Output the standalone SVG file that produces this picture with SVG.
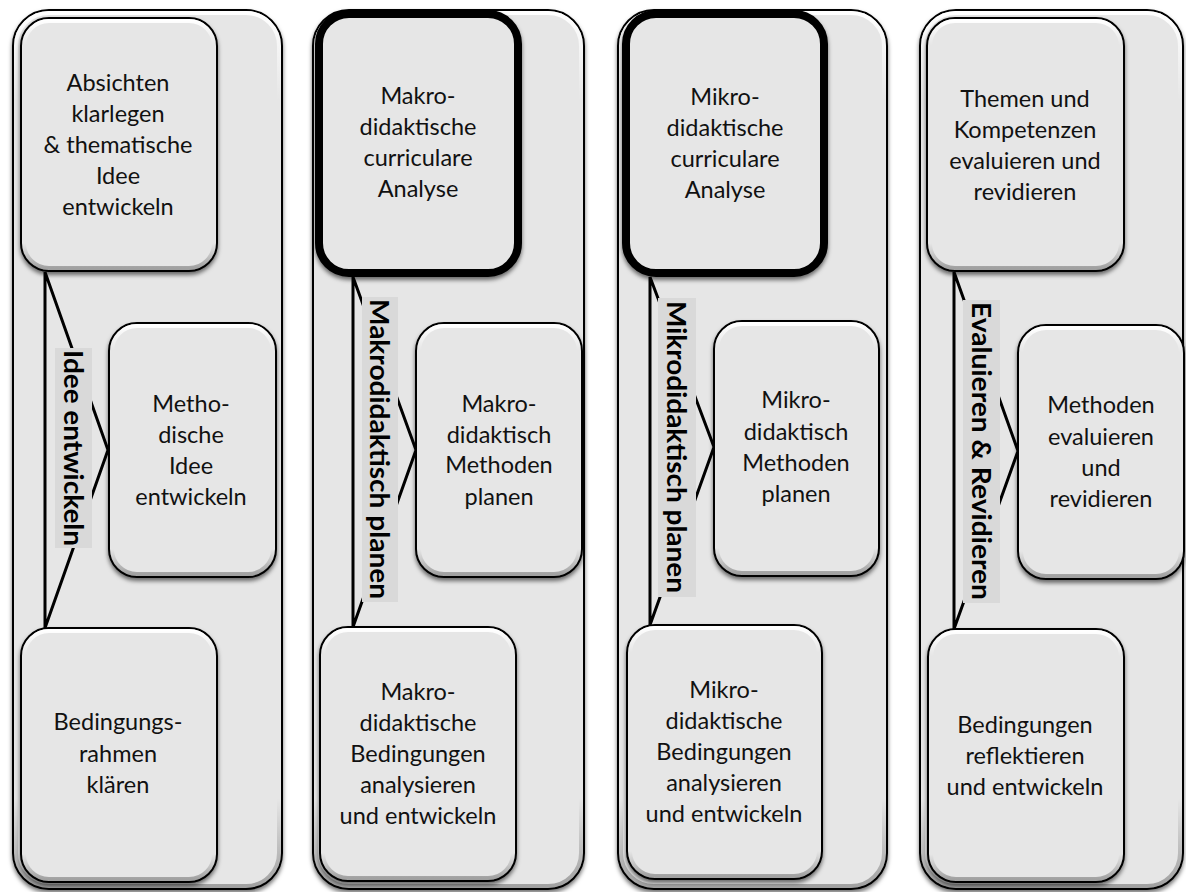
<svg xmlns="http://www.w3.org/2000/svg" width="1186" height="892" viewBox="0 0 1186 892">
<defs>
<filter id="sh" x="-10%" y="-10%" width="120%" height="120%">
<feDropShadow dx="0" dy="3" stdDeviation="2.2" flood-color="#000" flood-opacity="0.55"/>
</filter>
<linearGradient id="hl" x1="0" y1="0" x2="0" y2="1">
<stop offset="0" stop-color="#fff" stop-opacity="1"/>
<stop offset="0.1" stop-color="#fff" stop-opacity="0"/>
<stop offset="0.9" stop-color="#000" stop-opacity="0"/>
<stop offset="1" stop-color="#000" stop-opacity="0.3"/>
</linearGradient>
<style>
.cont{fill:#e6e6e6;stroke:#000;stroke-width:2}
.node{fill:#e6e6e6;stroke:#000;stroke-width:2}
.thick{fill:#e6e6e6;stroke:#000;stroke-width:8}
.hl{fill:none;stroke:url(#hl);stroke-width:4}
.t{font-family:Lato,"Open Sans","Liberation Sans",sans-serif;font-size:23.5px;fill:#111;text-anchor:middle}
.lb{fill:#d9d9d9}
.lt{font-family:Lato,"Open Sans","Liberation Sans",sans-serif;font-size:27px;font-weight:bold;fill:#000;text-anchor:middle;dominant-baseline:central}
.con{fill:none;stroke:#000;stroke-width:3;stroke-linejoin:miter}
</style>
</defs>

<g id="containers">
<g id="col1"><rect class="cont" filter="url(#sh)" x="13" y="10" width="269" height="879" rx="36"/><rect class="hl" x="16" y="13" width="263" height="873" rx="33"/></g>
<g id="col2"><rect class="cont" filter="url(#sh)" x="313" y="10" width="271" height="879" rx="36"/><rect class="hl" x="316" y="13" width="265" height="873" rx="33"/></g>
<g id="col3"><rect class="cont" filter="url(#sh)" x="618" y="10" width="269" height="879" rx="36"/><rect class="hl" x="621" y="13" width="263" height="873" rx="33"/></g>
<g id="col4"><rect class="cont" filter="url(#sh)" x="920" y="10" width="263" height="879" rx="36"/><rect class="hl" x="923" y="13" width="257" height="873" rx="33"/></g>
</g>

<g id="connectors">
<path class="con" d="M45,272 L45,628 M45,272 L108,450 L45,628"/>
<path class="con" d="M353,277 L353,627 M353,277 L416,450 L353,627"/>
<path class="con" d="M650,277 L650,625 M650,277 L714,447 L650,625"/>
<path class="con" d="M954,272 L954,629 M954,272 L1018,451 L954,629"/>
</g>

<g id="labels">
<g id="label1"><rect class="lb" x="55" y="348" width="37" height="200"/><text class="lt" transform="translate(74,448) rotate(90)" textLength="196" lengthAdjust="spacingAndGlyphs">Idee entwickeln</text></g>
<g id="label2"><rect class="lb" x="362" y="297" width="36" height="305"/><text class="lt" transform="translate(380,449) rotate(90)" textLength="300" lengthAdjust="spacingAndGlyphs">Makrodidaktisch planen</text></g>
<g id="label3"><rect class="lb" x="658" y="298" width="38" height="299"/><text class="lt" transform="translate(677,447) rotate(90)" textLength="292" lengthAdjust="spacingAndGlyphs">Mikrodidaktisch planen</text></g>
<g id="label4"><rect class="lb" x="963" y="300" width="37" height="303"/><text class="lt" transform="translate(982,451) rotate(90)" textLength="298" lengthAdjust="spacingAndGlyphs">Evaluieren &amp; Revidieren</text></g>
</g>

<g id="n1a"><rect class="node" filter="url(#sh)" x="21" y="18" width="196" height="253" rx="28"/><rect class="hl" x="24" y="21" width="190" height="247" rx="25"/>
<text class="t"><tspan x="118" y="91">Absichten</tspan><tspan x="118" y="122">klarlegen</tspan><tspan x="118" y="153">&amp; thematische</tspan><tspan x="118" y="184">Idee</tspan><tspan x="118" y="215">entwickeln</tspan></text></g>
<g id="n1b"><rect class="node" filter="url(#sh)" x="109" y="323" width="167" height="254" rx="28"/><rect class="hl" x="112" y="326" width="161" height="248" rx="25"/>
<text class="t"><tspan x="191" y="412">Metho-</tspan><tspan x="191" y="443">dische</tspan><tspan x="191" y="474">Idee</tspan><tspan x="191" y="505">entwickeln</tspan></text></g>
<g id="n1c"><rect class="node" filter="url(#sh)" x="21" y="628" width="196" height="254" rx="28"/><rect class="hl" x="24" y="631" width="190" height="248" rx="25"/>
<text class="t"><tspan x="118" y="730">Bedingungs-</tspan><tspan x="118" y="762">rahmen</tspan><tspan x="118" y="793">klären</tspan></text></g>

<g id="n2a"><rect class="thick" filter="url(#sh)" x="319" y="14" width="199" height="259" rx="30"/>
<text class="t"><tspan x="418" y="104">Makro-</tspan><tspan x="418" y="135">didaktische</tspan><tspan x="418" y="166">curriculare</tspan><tspan x="418" y="197">Analyse</tspan></text></g>
<g id="n2b"><rect class="node" filter="url(#sh)" x="416" y="323" width="166" height="254" rx="28"/><rect class="hl" x="419" y="326" width="160" height="248" rx="25"/>
<text class="t"><tspan x="499" y="412">Makro-</tspan><tspan x="499" y="443">didaktisch</tspan><tspan x="499" y="473">Methoden</tspan><tspan x="499" y="505">planen</tspan></text></g>
<g id="n2c"><rect class="node" filter="url(#sh)" x="320" y="627" width="196" height="254" rx="28"/><rect class="hl" x="323" y="630" width="190" height="248" rx="25"/>
<text class="t"><tspan x="418" y="700">Makro-</tspan><tspan x="418" y="731">didaktische</tspan><tspan x="418" y="762">Bedingungen</tspan><tspan x="418" y="793">analysieren</tspan><tspan x="418" y="824">und entwickeln</tspan></text></g>

<g id="n3a"><rect class="thick" filter="url(#sh)" x="626" y="14" width="198" height="259" rx="30"/>
<text class="t"><tspan x="725" y="105">Mikro-</tspan><tspan x="725" y="136">didaktische</tspan><tspan x="725" y="167">curriculare</tspan><tspan x="725" y="198">Analyse</tspan></text></g>
<g id="n3b"><rect class="node" filter="url(#sh)" x="714" y="321" width="165" height="255" rx="28"/><rect class="hl" x="717" y="324" width="159" height="249" rx="25"/>
<text class="t"><tspan x="796" y="408">Mikro-</tspan><tspan x="796" y="440">didaktisch</tspan><tspan x="796" y="471">Methoden</tspan><tspan x="796" y="502">planen</tspan></text></g>
<g id="n3c"><rect class="node" filter="url(#sh)" x="627" y="625" width="195" height="254" rx="28"/><rect class="hl" x="630" y="628" width="189" height="248" rx="25"/>
<text class="t"><tspan x="724" y="698">Mikro-</tspan><tspan x="724" y="729">didaktische</tspan><tspan x="724" y="760">Bedingungen</tspan><tspan x="724" y="791">analysieren</tspan><tspan x="724" y="822">und entwickeln</tspan></text></g>

<g id="n4a"><rect class="node" filter="url(#sh)" x="927" y="18" width="197" height="253" rx="28"/><rect class="hl" x="930" y="21" width="191" height="247" rx="25"/>
<text class="t"><tspan x="1025" y="107">Themen und</tspan><tspan x="1025" y="138">Kompetenzen</tspan><tspan x="1025" y="169">evaluieren und</tspan><tspan x="1025" y="200">revidieren</tspan></text></g>
<g id="n4b"><rect class="node" filter="url(#sh)" x="1018" y="325" width="166" height="254" rx="28"/><rect class="hl" x="1021" y="328" width="160" height="248" rx="25"/>
<text class="t"><tspan x="1101" y="413">Methoden</tspan><tspan x="1101" y="445">evaluieren</tspan><tspan x="1101" y="476">und</tspan><tspan x="1101" y="507">revidieren</tspan></text></g>
<g id="n4c"><rect class="node" filter="url(#sh)" x="928" y="629" width="196" height="253" rx="28"/><rect class="hl" x="931" y="632" width="190" height="247" rx="25"/>
<text class="t"><tspan x="1025" y="733">Bedingungen</tspan><tspan x="1025" y="764">reflektieren</tspan><tspan x="1025" y="795">und entwickeln</tspan></text></g>
</svg>
